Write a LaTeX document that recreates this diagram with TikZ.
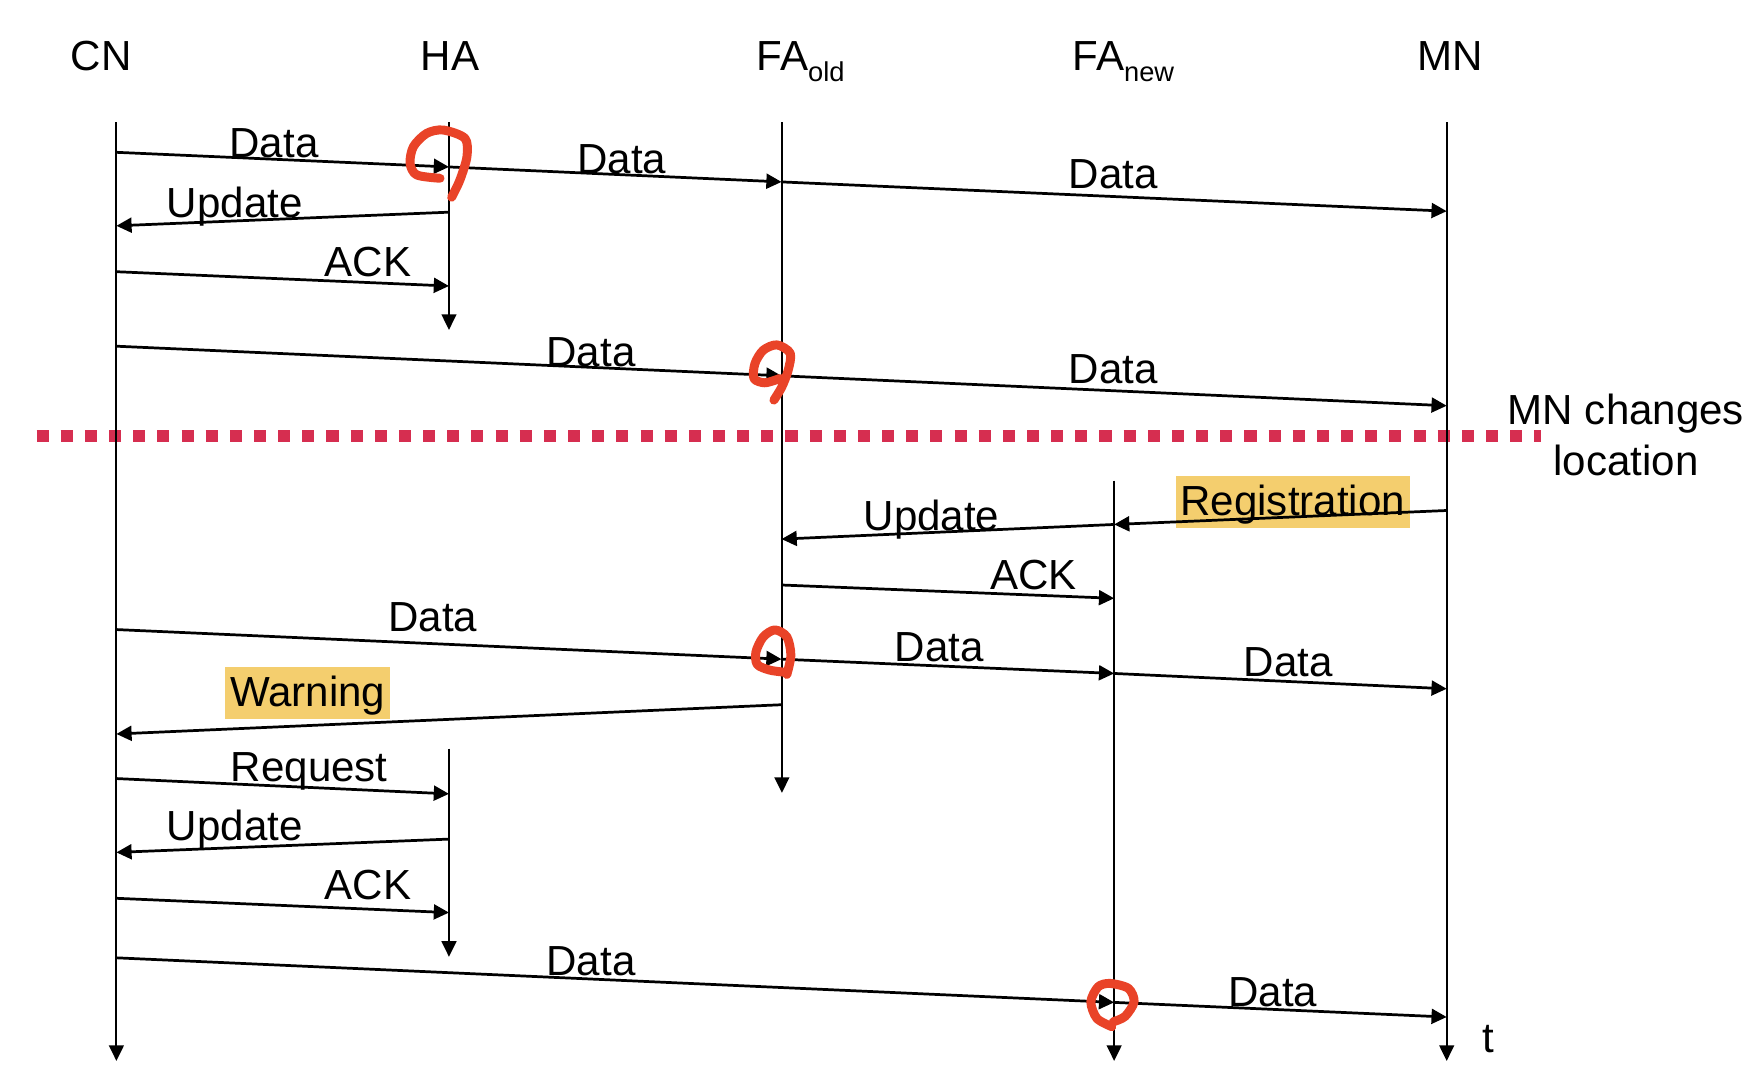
\documentclass[tikz,border=0pt]{standalone}
\usepackage{fontspec}
\setmainfont{Liberation Sans}
\usetikzlibrary{arrows.meta}

\definecolor{cutred}{RGB}{214,46,80}
\definecolor{penred}{RGB}{233,67,40}
\definecolor{hlyellow}{RGB}{244,206,110}
\newcommand{\sub}[1]{\raisebox{-0.27em}{\fontsize{7}{8}\selectfont #1}}

\tikzset{
  life/.style = {line width=0.5pt, -{Triangle[length=4pt,width=3.8pt]}},
  msg/.style = {line width=0.7pt, -{Triangle[length=3.9pt,width=3.8pt]}},
  lbl/.style = {anchor=base, inner sep=0pt},
  hl/.style = {lbl, fill=hlyellow, inner xsep=0.12em, inner ysep=0pt, text height=1.02em, text depth=0.32em},
  cut/.style = {cutred, line width=3.15pt, dash pattern=on 3.1pt off 3.1pt},
  pen/.style = {penred, line width=2.3pt, line cap=round, line join=round}
}

\begin{document}
\begin{tikzpicture}[x=3cm, y=3cm, font=\fontsize{10.8}{13.1}\selectfont]
\useasboundingbox (-0.350,0.367) rectangle (4.948,-2.874);

% the move of MN
\coordinate (cut l) at (-0.240,-0.943);
\coordinate (cut r) at (4.283,-0.943);
\draw[cut] (cut l) -- (cut r);
\node[align=center, inner sep=0pt] (move) at (4.539,-0.940) {MN changes\\location};

% stations
\node[lbl] (cn) at (-0.046,0.155) {CN};
\node[lbl] (ha) at (1.003,0.155) {HA};
\node[lbl, anchor=base west] (fao) at (1.923,0.155) {FA\sub{old}};
\node[lbl, anchor=base west] (fan) at (2.873,0.155) {FA\sub{new}};
\node[lbl] (mn) at (4.010,0.155) {MN};

% lifelines
\coordinate (cn0) at (0,0);  \coordinate (cn1) at (0,-2.823);
\coordinate (ha0) at (1,0);  \coordinate (ha1) at (1,-0.625);
\coordinate (ha2) at (1,-1.884);  \coordinate (ha3) at (1,-2.510);
\coordinate (fo0) at (2.001,0);  \coordinate (fo1) at (2.001,-2.017);
\coordinate (fn0) at (3,-1.078);  \coordinate (fn1) at (3,-2.823);
\coordinate (mn0) at (4,0);  \coordinate (mn1) at (4,-2.823);
\draw[life] (cn0) -- (cn1);
\draw[life] (ha0) -- (ha1);
\draw[life] (ha2) -- (ha3);
\draw[life] (fo0) -- (fo1);
\draw[life] (fn0) -- (fn1);
\draw[life] (mn0) -- (mn1);
\node[lbl] (t) at (4.124,-2.799) {t};

% before the move
\coordinate (m1cn) at (0,-0.091);  \coordinate (m1ha) at (1,-0.135);
\coordinate (m1fo) at (2,-0.180);  \coordinate (m1mn) at (4,-0.268);
\draw[msg] (m1cn) -- (m1ha);
\draw[msg] (m1ha) -- (m1fo);
\draw[msg] (m1fo) -- (m1mn);
\node[lbl] (l1a) at (0.474,-0.108) {Data};
\node[lbl] (l1b) at (1.520,-0.156) {Data};
\node[lbl] (l1c) at (2.997,-0.201) {Data};

\coordinate (m2ha) at (1,-0.271);  \coordinate (m2cn) at (0,-0.312);
\draw[msg] (m2ha) -- (m2cn);
\node[lbl] (l2) at (0.356,-0.287) {Update};

\coordinate (m3cn) at (0,-0.450);  \coordinate (m3ha) at (1,-0.493);
\draw[msg] (m3cn) -- (m3ha);
\node[lbl] (l3) at (0.757,-0.465) {ACK};

\coordinate (m4cn) at (0,-0.674);  \coordinate (m4fo) at (2,-0.763);
\coordinate (m4mn) at (4,-0.853);
\draw[msg] (m4cn) -- (m4fo);
\draw[msg] (m4fo) -- (m4mn);
\node[lbl] (l4a) at (1.427,-0.734) {Data};
\node[lbl] (l4b) at (2.997,-0.786) {Data};

% after the move
\node[hl] (l5a) at (3.537,-1.184) {Registration};
\coordinate (m5mn) at (4,-1.168);  \coordinate (m5fn) at (3,-1.210);
\coordinate (m5fo) at (2,-1.254);
\draw[msg] (m5mn) -- (m5fn);
\draw[msg] (m5fn) -- (m5fo);
\node[lbl] (l5b) at (2.451,-1.229) {Update};

\coordinate (m6fo) at (2,-1.392);  \coordinate (m6fn) at (3,-1.432);
\draw[msg] (m6fo) -- (m6fn);
\node[lbl] (l6) at (2.757,-1.407) {ACK};

\coordinate (m7cn) at (0,-1.526);  \coordinate (m7fo) at (2,-1.615);
\coordinate (m7fn) at (3,-1.658);  \coordinate (m7mn) at (4,-1.704);
\draw[msg] (m7cn) -- (m7fo);
\draw[msg] (m7fo) -- (m7fn);
\draw[msg] (m7fn) -- (m7mn);
\node[lbl] (l7a) at (0.951,-1.533) {Data};
\node[lbl] (l7b) at (2.474,-1.623) {Data};
\node[lbl] (l7c) at (3.523,-1.667) {Data};

\node[hl] (l8) at (0.575,-1.757) {Warning};
\coordinate (m8fo) at (2,-1.752);  \coordinate (m8cn) at (0,-1.840);
\draw[msg] (m8fo) -- (m8cn);

\coordinate (m9cn) at (0,-1.974);  \coordinate (m9ha) at (1,-2.020);
\draw[msg] (m9cn) -- (m9ha);
\node[lbl] (l9) at (0.580,-1.983) {Request};

\coordinate (m10ha) at (1,-2.156);  \coordinate (m10cn) at (0,-2.196);
\draw[msg] (m10ha) -- (m10cn);
\node[lbl] (l10) at (0.356,-2.160) {Update};

\coordinate (m11cn) at (0,-2.334);  \coordinate (m11ha) at (1,-2.377);
\draw[msg] (m11cn) -- (m11ha);
\node[lbl] (l11) at (0.757,-2.339) {ACK};

\coordinate (m12cn) at (0,-2.513);  \coordinate (m12fn) at (3,-2.647);
\coordinate (m12mn) at (4,-2.691);
\draw[msg] (m12cn) -- (m12fn);
\draw[msg] (m12fn) -- (m12mn);
\node[lbl] (l12a) at (1.427,-2.566) {Data};
\node[lbl] (l12b) at (3.477,-2.660) {Data};

% hand-drawn marks
\draw[pen] plot[smooth] coordinates {(0.973,-0.169) (0.903,-0.159) (0.883,-0.124) (0.893,-0.074) (0.933,-0.034) (0.983,-0.024) (1.048,-0.049) (1.054,-0.104) (1.033,-0.174) (1.008,-0.226)};
\draw[pen] plot[smooth] coordinates {(1.995,-0.771) (1.950,-0.784) (1.917,-0.771) (1.920,-0.726) (1.945,-0.686) (1.986,-0.670) (2.026,-0.695) (2.020,-0.746) (2.001,-0.796) (1.977,-0.836)};
\draw[pen] plot[smooth] coordinates {(2.016,-1.661) (2.028,-1.603) (2.016,-1.548) (1.980,-1.527) (1.945,-1.548) (1.923,-1.593) (1.927,-1.631) (1.965,-1.648) (2.016,-1.655)};
\draw[pen] plot[smooth] coordinates {(2.993,-2.720) (2.948,-2.695) (2.930,-2.645) (2.952,-2.600) (2.988,-2.590) (3.043,-2.605) (3.060,-2.645) (3.033,-2.689) (2.998,-2.705)};
\end{tikzpicture}
\end{document}
